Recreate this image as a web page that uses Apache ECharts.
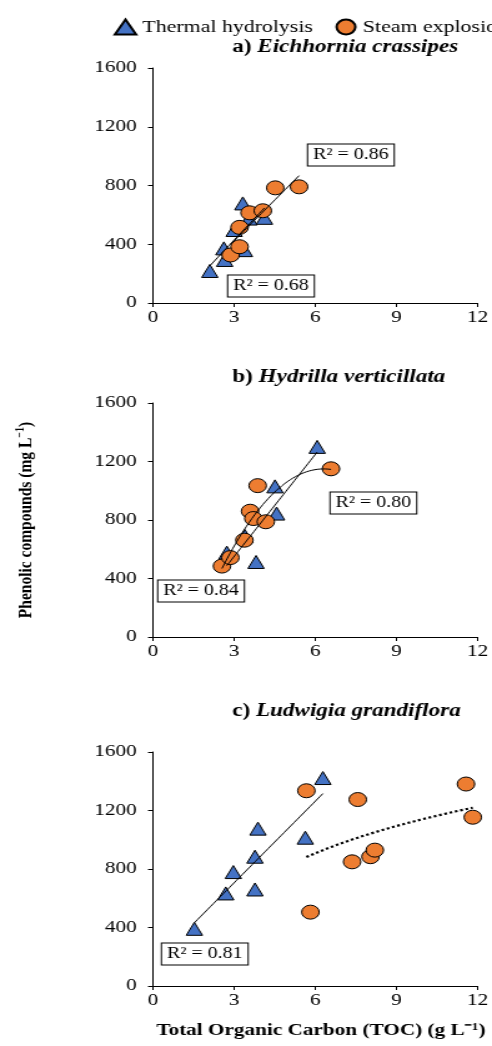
<!DOCTYPE html>
<html>
<head>
<meta charset="utf-8">
<script src="https://cdn.jsdelivr.net/npm/echarts@6/dist/echarts.min.js"></script>
<style>
  html, body { margin: 0; padding: 0; background: #fff; overflow: hidden; }
  /* the reference is stretched sideways, so the chart is drawn narrow and widened */
  #main { width: 394px; height: 1046px; transform: scaleX(1.2487); transform-origin: 0 0; }
</style>
</head>
<body>
<div id="main"></div>
<script>
// a) Eichhornia crassipes
var thermalAx = [2.1, 2.62, 2.65, 3.0, 3.32, 3.38, 3.55, 4.12];
var thermalAy = [218, 372, 293, 497, 678, 360, 575, 580];
var steamAx = [2.87, 3.2, 3.2, 3.57, 4.06, 4.52, 5.4];
var steamAy = [327, 383, 515, 614, 628, 784, 791];
// b) Hydrilla verticillata
var thermalBx = [2.73, 3.4, 3.81, 4.51, 4.57, 6.07];
var thermalBy = [577, 690, 513, 1030, 844, 1300];
var steamBx = [2.55, 2.86, 3.38, 3.59, 3.71, 3.87, 4.17, 6.58];
var steamBy = [485, 543, 662, 860, 810, 1035, 788, 1150];
// c) Ludwigia grandiflora
var thermalCx = [1.53, 2.69, 2.97, 3.77, 3.77, 3.88, 5.63, 6.28];
var thermalCy = [391, 633, 779, 660, 884, 1076, 1014, 1422];
var steamCx = [5.67, 5.82, 7.36, 7.57, 8.04, 8.2, 11.57, 11.82];
var steamCy = [1335, 505, 849, 1275, 884, 929, 1381, 1154];

var xTicks = [0, 3, 6, 9, 12];
var yTicks = [0, 400, 800, 1200, 1600];
var panelTitles = [["a) ", "Eichhornia crassipes"], ["b) ", "Hydrilla verticillata"], ["c) ", "Ludwigia grandiflora"]];
var r2Labels = ["R² = 0.86", "R² = 0.68", "R² = 0.84", "R² = 0.80", "R² = 0.81"];

var serif = "Liberation Serif";

function pairs(xs, ys) {
  var out = [];
  for (var i = 0; i < xs.length; i++) out.push([xs[i], ys[i]]);
  return out;
}

// least squares trendlines, like the spreadsheet ones
function solve3(m, v) {
  var a = m.map(function (r, i) { return r.concat([v[i]]); });
  for (var c = 0; c < 3; c++) {
    for (var r = c + 1; r < 3; r++) {
      var f = a[r][c] / a[c][c];
      for (var k = c; k < 4; k++) a[r][k] -= f * a[c][k];
    }
  }
  var s = [0, 0, 0];
  for (var i = 2; i >= 0; i--) {
    var t = a[i][3];
    for (var j = i + 1; j < 3; j++) t -= a[i][j] * s[j];
    s[i] = t / a[i][i];
  }
  return s;
}
function trend(xs, ys, kind) {
  var n = xs.length, f;
  var tx = kind === "log" ? xs.map(Math.log) : xs;
  if (kind === "poly") {
    var S = [0, 0, 0, 0, 0], T = [0, 0, 0];
    for (var i = 0; i < n; i++) {
      for (var p = 0; p < 5; p++) S[p] += Math.pow(xs[i], p);
      for (var q = 0; q < 3; q++) T[q] += ys[i] * Math.pow(xs[i], q);
    }
    var c = solve3([[S[0], S[1], S[2]], [S[1], S[2], S[3]], [S[2], S[3], S[4]]], T);
    f = function (x) { return c[0] + c[1] * x + c[2] * x * x; };
  } else {
    var mx = 0, my = 0;
    for (var i2 = 0; i2 < n; i2++) { mx += tx[i2]; my += ys[i2]; }
    mx /= n; my /= n;
    var sxy = 0, sxx = 0;
    for (var j = 0; j < n; j++) { sxy += (tx[j] - mx) * (ys[j] - my); sxx += (tx[j] - mx) * (tx[j] - mx); }
    var b = sxy / sxx, a = my - b * mx;
    f = kind === "log" ? function (x) { return a + b * Math.log(x); } : function (x) { return a + b * x; };
  }
  var lo = Math.min.apply(null, xs), hi = Math.max.apply(null, xs), pts = [];
  for (var k = 0; k <= 40; k++) {
    var x = lo + (hi - lo) * k / 40;
    pts.push([x, f(x)]);
  }
  return pts;
}

var gridTops = [68, 403, 752];
var gridHeights = [235, 234, 234];
var grids = [], xAxes = [], yAxes = [], series = [];

var panels = [
  { th: pairs(thermalAx, thermalAy), se: pairs(steamAx, steamAy),
    fits: [[thermalAx, thermalAy, "lin", "solid"], [steamAx, steamAy, "lin", "solid"]] },
  { th: pairs(thermalBx, thermalBy), se: pairs(steamBx, steamBy),
    fits: [[thermalBx, thermalBy, "lin", "solid"], [steamBx, steamBy, "poly", "solid"]] },
  { th: pairs(thermalCx, thermalCy), se: pairs(steamCx, steamCy),
    fits: [[thermalCx, thermalCy, "lin", "solid"], [steamCx, steamCy, "log", "dotted"]] }
];

panels.forEach(function (p, i) {
  grids.push({ left: 122.5, top: gridTops[i], width: 262, height: gridHeights[i] });
  xAxes.push({
    gridIndex: i, type: "value", min: 0, max: 12, interval: 3,
    axisLine: { lineStyle: { color: "#000", width: 1 } },
    axisTick: { show: true, length: 4, lineStyle: { color: "#000" } },
    splitLine: { show: false },
    axisLabel: { color: "#000", fontSize: 17, fontFamily: serif, margin: 6,
      formatter: function (v) { return xTicks.indexOf(v) >= 0 ? String(v) : ""; } }
  });
  yAxes.push({
    gridIndex: i, type: "value", min: 0, max: 1600, interval: 400,
    axisLine: { show: true, lineStyle: { color: "#000", width: 1 } },
    axisTick: { show: true, length: 4, lineStyle: { color: "#000" } },
    splitLine: { show: false },
    axisLabel: { color: "#000", fontSize: 17, fontFamily: serif, margin: 13,
      formatter: function (v) { return yTicks.indexOf(v) >= 0 ? String(v) : ""; } }
  });
  series.push({
    name: "Thermal hydrolysis", type: "scatter", xAxisIndex: i, yAxisIndex: i,
    symbol: "triangle", symbolSize: [13, 13], data: p.th, z: 2,
    itemStyle: { color: "#4472C4", borderColor: "#000", borderWidth: 1, opacity: 1 }
  });
  series.push({
    name: "Steam explosion", type: "scatter", xAxisIndex: i, yAxisIndex: i,
    symbol: "circle", symbolSize: [14, 14], data: p.se, z: 3,
    itemStyle: { color: "#ED7D31", borderColor: "#000", borderWidth: 1, opacity: 1 }
  });
  p.fits.forEach(function (ft) {
    series.push({
      name: "trend", type: "line", xAxisIndex: i, yAxisIndex: i,
      data: trend(ft[0], ft[1], ft[2]), showSymbol: false, symbol: "none", silent: true, z: 4,
      lineStyle: { color: "#000", width: ft[3] === "dotted" ? 2.2 : 1, type: ft[3] }
    });
  });
});

function r2Box(text, x, y) {
  return {
    type: "text", x: x, y: y, z: 100,
    style: {
      text: text, align: "center", verticalAlign: "middle",
      font: "16px " + serif, fill: "#000",
      backgroundColor: "#fff", borderColor: "#000", borderWidth: 1, padding: [3, 4, 2, 4]
    }
  };
}

var graphics = [];
var titleY = [47, 377, 711];
panelTitles.forEach(function (t, i) {
  graphics.push({
    type: "text", x: 186, y: titleY[i],
    style: {
      text: "{b|" + t[0] + "}{bi|" + t[1] + "}", align: "left", verticalAlign: "middle",
      rich: {
        b: { fontSize: 18.5, fontWeight: "bold", fontFamily: serif, fill: "#000" },
        bi: { fontSize: 18.5, fontWeight: "bold", fontStyle: "italic", fontFamily: serif, fill: "#000" }
      }
    }
  });
});
graphics.push(r2Box(r2Labels[0], 281, 155));
graphics.push(r2Box(r2Labels[1], 217, 286));
graphics.push(r2Box(r2Labels[2], 161, 591));
graphics.push(r2Box(r2Labels[3], 299, 503));
graphics.push(r2Box(r2Labels[4], 164, 954));
// shared axis names
graphics.push({
  type: "text", x: 21, y: 520, rotation: Math.PI / 2,
  style: {
    text: "{n|Phenolic compounds (mg L}{s|−1}{n|)}", align: "center", verticalAlign: "middle",
    rich: {
      n: { fontSize: 15.5, fontWeight: "bold", fontFamily: serif, fill: "#000", lineHeight: 20 },
      s: { fontSize: 10, fontWeight: "bold", fontFamily: serif, fill: "#000", lineHeight: 20, verticalAlign: "top" }
    }
  }
});
graphics.push({
  type: "text", x: 257, y: 1031,
  style: {
    text: "Total Organic Carbon (TOC) (g L⁻¹)", align: "center", verticalAlign: "middle",
    font: "bold 17px " + serif, fill: "#000"
  }
});

var chart = echarts.init(document.getElementById("main"));
chart.setOption({
  animation: false,
  backgroundColor: "#fff",
  legend: {
    left: 86, top: 13, width: 600, orient: "horizontal",
    itemWidth: 17, itemHeight: 15, itemGap: 18,
    data: ["Thermal hydrolysis", "Steam explosion"],
    textStyle: { fontSize: 17.5, fontFamily: serif, color: "#000" }
  },
  grid: grids,
  xAxis: xAxes,
  yAxis: yAxes,
  series: series,
  graphic: graphics
});
</script>
</body>
</html>
